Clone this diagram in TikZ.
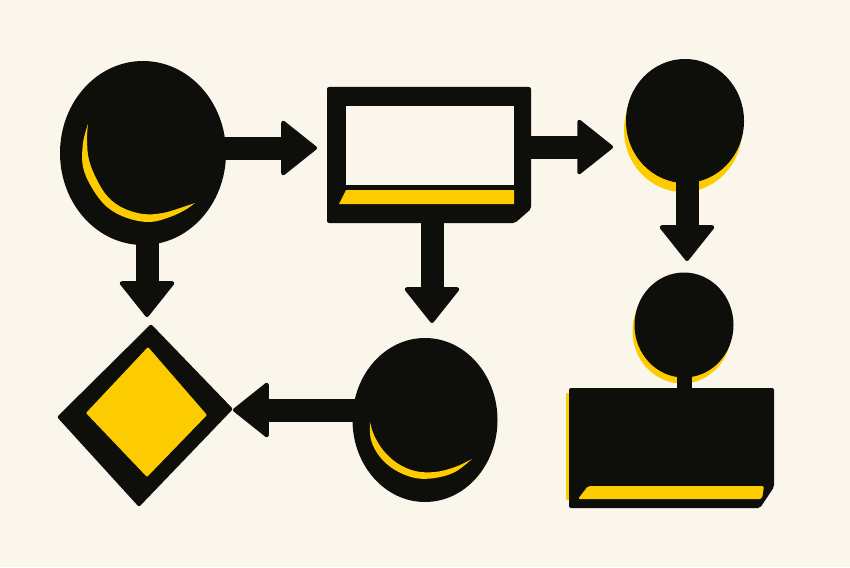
\documentclass[tikz,border=0pt]{standalone}
\usetikzlibrary{shapes.geometric,arrows.meta}
\definecolor{bg}{RGB}{250,246,236}
\definecolor{ink}{RGB}{14,14,11}
\definecolor{gold}{RGB}{252,204,0}
\tikzset{
  blob/.style={ellipse,fill=ink,inner sep=0pt,draw=none},
  holder/.style={rectangle,inner sep=0pt,draw=none},
  shadow/.style={fill=gold},
  conn/.style={draw=ink,line width=23pt,-{Triangle[length=37pt,width=58pt,line width=4pt,round]}},
  stem/.style={draw=ink,line width=15pt},
  crescent/.style={fill=gold},
}
\begin{document}
\begin{tikzpicture}[x=1pt,y=-1pt]
\useasboundingbox (0,0) rectangle (850,567);
\fill[bg] (0,0) rectangle (850,567);

% named placeholders / nodes
\node[holder,minimum width=204pt,minimum height=136pt] (r2) at (429,155) {};
\node[holder,minimum width=205pt,minimum height=120pt] (b5) at (671.5,448) {};
\coordinate (dia) at (145,415);

% shadows behind the right-column circles
\fill[shadow] (683,130) ellipse [x radius=59pt,y radius=62pt];
\fill[shadow] (682,331) ellipse [x radius=49.5pt,y radius=52.5pt];
\fill[gold] (566,393) rectangle (571,500);

% arrow tips
\coordinate (t1) at (317,148);
\coordinate (t2) at (147,317);
\coordinate (t3) at (613,147);
\coordinate (t4) at (432,323);
\coordinate (t5) at (687,261);
\coordinate (t6) at (233,410);

% connectors
\draw[conn] (143,148) -- (t1);
\draw[conn] (147,153) -- (t2);
\draw[conn] (429,147) -- (t3);
\draw[conn] (432,155) -- (t4);
\draw[conn] (687,121) -- (t5);
\draw[conn] (425,410) -- (t6);
\draw[stem] (684,325) -- (684,395);

% shapes
\node[blob,minimum width=166pt,minimum height=184pt] (c1) at (143,153) {};
\node[blob,minimum width=118pt,minimum height=124pt] (c3) at (685,121) {};
\node[blob,minimum width=99pt,minimum height=105pt] (c4) at (684,325) {};
\node[blob,minimum width=145pt,minimum height=164pt] (c6) at (425,420) {};

% rectangle with bevelled corner
\fill[ink,rounded corners=2pt] (327,87) -- (531,87) -- (531,209) -- (515,223) -- (327,223) -- cycle;
\fill[bg] (346,106) rectangle (514,185);
\fill[gold] (346,190) -- (514,190) -- (514,204) -- (339,204) -- cycle;

% bottom-right box
\fill[ink,rounded corners=2pt] (569,388) -- (774,388) -- (774,487) -- (760,508) -- (569,508) -- cycle;
\fill[gold,rounded corners=2pt] (588,486) -- (764,486) -- (762,499) -- (578,499) -- cycle;

% diamond
\fill[ink,rounded corners=2pt] (57,417) -- (151,324) -- (233,409) -- (139,507) -- cycle;
\fill[gold,rounded corners=1pt] (86,413) -- (148,347) -- (207,415) -- (147,477) -- cycle;

% crescents
\fill[crescent] plot[smooth,tension=0.6] coordinates {(88,124) (83,143) (83,167) (92,188) (107,207) (127,218) (150,222) (170,217) (185,210) (195,203)}
  -- plot[smooth,tension=0.6] coordinates {(195,203) (183,207) (163,213) (143,214) (123,208) (108,197) (97,180) (89,160) (87,140) (88,124)} -- cycle;
\fill[crescent] plot[smooth,tension=0.6] coordinates {(370,422) (371,440) (380,457) (395,470) (415,478) (435,478) (455,472) (472,459)}
  -- plot[smooth,tension=0.6] coordinates {(472,459) (455,467) (435,472) (415,471) (397,463) (383,450) (374,435) (370,422)} -- cycle;
\end{tikzpicture}
\end{document}
